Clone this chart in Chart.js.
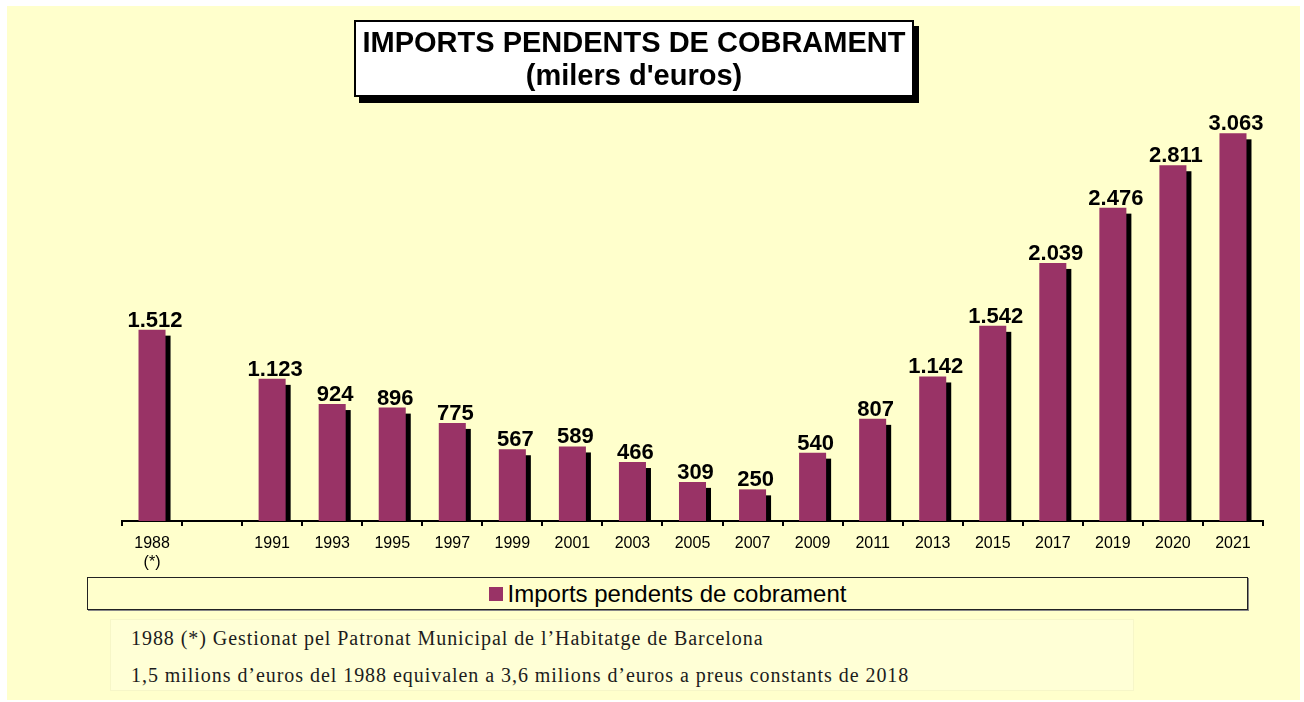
<!DOCTYPE html>
<html>
<head>
<meta charset="utf-8">
<script src="https://cdn.jsdelivr.net/npm/chart.js@4.4.1/dist/chart.umd.min.js"></script>
<style>
  html, body { margin: 0; padding: 0; background: #fff; }
  #wrap { position: relative; width: 1304px; height: 702px; overflow: hidden; font-family: "Liberation Sans", Arial, sans-serif; }
  #panel { position: absolute; left: 7px; top: 6px; width: 1293px; height: 694px; background: #ffffcc; }
  #chart { position: absolute; left: 0; top: 0; }
  #title {
    position: absolute; left: 354px; top: 20px; width: 560px; height: 77px;
    box-sizing: border-box; border: 2px solid #000; background: #fff;
    box-shadow: 5px 6px 0 #000; text-align: center;
    font-weight: bold; font-size: 29px; line-height: 33px; padding-top: 4px; color: #000;
  }
  #legend {
    position: absolute; left: 87px; top: 577px; width: 1161px; height: 33px;
    box-sizing: border-box; border: 1px solid #222; box-shadow: 1px 1px 0 #888;
    display: flex; align-items: center; justify-content: center;
    font-size: 24px; color: #000;
  }
  #legend .swatch { display: inline-block; width: 14px; height: 14px; margin-right: 5px; }
  #notes {
    position: absolute; left: 110px; top: 619px; width: 1024px; height: 72px;
    box-sizing: border-box; background: #ffffd6; border: 1px solid #f6f6c8;
    font-family: "Liberation Serif", "Times New Roman", serif; font-size: 20px; color: #1c1c1c;
  }
  #notes div { position: absolute; left: 20px; white-space: nowrap; }
</style>
</head>
<body>
<div id="wrap">
  <div id="panel"></div>
  <canvas id="chart" width="1304" height="575"></canvas>
  <div id="title">IMPORTS PENDENTS DE COBRAMENT<br>(milers d'euros)</div>
  <div id="legend"></div>
  <div id="notes">
    <div style="top:7px; letter-spacing:0.95px">1988 (*) Gestionat pel Patronat Municipal de l’Habitatge de Barcelona</div>
    <div style="top:44px; letter-spacing:0.95px">1,5 milions d’euros del 1988 equivalen a 3,6 milions d’euros a preus constants de 2018</div>
  </div>
</div>
<script>
// anys (1988 porta la nota (*)); la columna buida separa 1988 de 1991
const categories = [['1988', '(*)'], '', '1991', '1993', '1995', '1997', '1999', '2001', '2003',
  '2005', '2007', '2009', '2011', '2013', '2015', '2017', '2019', '2020', '2021'];
// milers d'euros
const imports = [1512, null, 1123, 924, 896, 775, 567, 589, 466, 309, 250, 540, 807, 1142,
  1542, 2039, 2476, 2811, 3063];
const seriesName = 'Imports pendents de cobrament';
const barColor = '#993366';

const fmt = v => String(v).replace(/\B(?=(\d{3})+(?!\d))/g, '.');

// ombra negra darrere de cada barra
const barShadow = {
  id: 'barShadow',
  beforeDatasetsDraw(chart) {
    const ctx = chart.ctx;
    const base = chart.scales.y.getPixelForValue(0);
    ctx.save();
    ctx.fillStyle = '#000';
    chart.getDatasetMeta(0).data.forEach((bar, i) => {
      if (imports[i] == null) return;
      const p = bar.getProps(['x', 'y', 'width'], true);
      ctx.fillRect(p.x - p.width / 2 + 5, p.y + 6, p.width, base - p.y - 6);
    });
    ctx.restore();
  }
};

// valors damunt de les barres
const valueLabels = {
  id: 'valueLabels',
  afterDatasetsDraw(chart) {
    const ctx = chart.ctx;
    ctx.save();
    ctx.font = 'bold 22px "Liberation Sans", Arial, sans-serif';
    ctx.fillStyle = '#000';
    ctx.textAlign = 'center';
    ctx.textBaseline = 'alphabetic';
    chart.getDatasetMeta(0).data.forEach((bar, i) => {
      if (imports[i] == null) return;
      const p = bar.getProps(['x', 'y'], true);
      ctx.fillText(fmt(imports[i]), p.x + 3, p.y - 3);
    });
    ctx.restore();
  }
};

const chart = new Chart(document.getElementById('chart').getContext('2d'), {
  type: 'bar',
  data: {
    labels: categories,
    datasets: [{
      label: seriesName,
      data: imports,
      backgroundColor: barColor,
      borderWidth: 0,
      categoryPercentage: 1,
      barPercentage: 0.45
    }]
  },
  options: {
    responsive: false,
    animation: false,
    layout: { padding: { left: 122, right: 41, top: 116, bottom: 0 } },
    plugins: { legend: { display: false }, title: { display: false }, tooltip: { enabled: false } },
    scales: {
      x: {
        z: 1,
        grid: { offset: true, drawOnChartArea: false, drawTicks: true, tickLength: 5, color: '#000', lineWidth: 2 },
        border: { display: true, color: '#000', width: 2 },
        ticks: { color: '#000', font: { family: '"Liberation Sans", Arial, sans-serif', size: 16 }, padding: 8, maxRotation: 0, autoSkip: false },
        afterFit(scale) { scale.height = 54; }
      },
      y: { display: false, min: 0, max: 3200 }
    }
  },
  plugins: [barShadow, valueLabels]
});

// llegenda
const ds = chart.data.datasets[0];
document.getElementById('legend').innerHTML =
  '<span class="swatch" style="background:' + ds.backgroundColor + '"></span><span>' + ds.label + '</span>';
</script>
</body>
</html>
